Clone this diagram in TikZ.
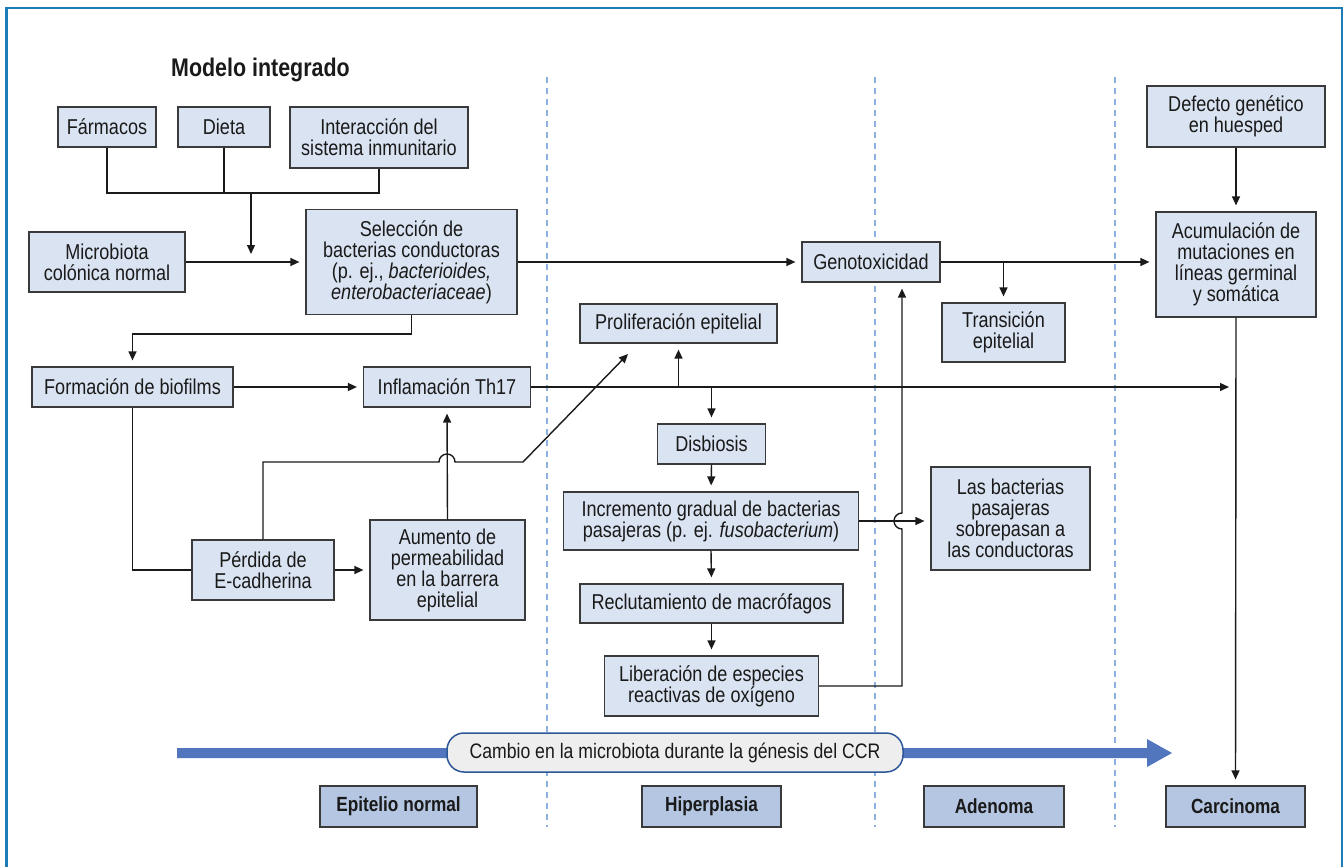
\documentclass[tikz,border=0pt]{standalone}
\usepackage{fontspec}
\setmainfont{Liberation Sans}[FakeStretch=0.84]
\usetikzlibrary{arrows.meta,calc}
\definecolor{boxfill}{HTML}{DAE3F1}
\definecolor{stagefill}{HTML}{B4C6E1}
\definecolor{edge}{HTML}{3A3A3A}
\definecolor{frameblue}{HTML}{1C7DB6}
\definecolor{dashblue}{HTML}{8EB0DE}
\definecolor{bigarrow}{HTML}{5176BE}
\definecolor{bannerline}{HTML}{2D5699}
\definecolor{bannerfill}{HTML}{EEEEEE}
\definecolor{ink}{HTML}{1A1A1A}
\begin{document}
\begin{tikzpicture}[x=1pt,y=-1pt,
  box/.style={draw=edge, line width=1.2pt, fill=boxfill, inner sep=0pt, align=center, text=ink, font=\fontsize{21.5}{21}\selectfont},
  stage/.style={draw=edge, line width=1.2pt, fill=stagefill, inner sep=0pt, align=center, text=ink, font=\fontsize{20.5}{21}\selectfont\bfseries, minimum height=41pt},
  conn/.style={draw=ink, line width=1.4pt},
  arr/.style={conn, -{Triangle[length=9pt,width=8pt]}, shorten >=6pt},
  arrfree/.style={conn, -{Triangle[length=9pt,width=8pt]}},
  sep/.style={draw=dashblue, line width=1.2pt, dash pattern=on 6pt off 5pt}
]
\useasboundingbox (0,0) rectangle (1344,867);
\fill[white] (0,0) rectangle (1344,867);
% frame
\draw[frameblue, line width=2.6pt] (6.5,900) -- (6.5,8) -- (1342,8) -- (1342,900);
% stage separators
\draw[sep] (547,77) -- (547,827);
\draw[sep] (875,77) -- (875,827);
\draw[sep] (1115,77) -- (1115,827);

% title
\node[anchor=west, font=\fontsize{25.5}{26}\selectfont\bfseries, text=ink, inner sep=0pt] (title) at (171,70) {Modelo integrado};

% boxes
\node[box, minimum width=98pt, minimum height=40pt] (farm) at (107,127) {Fármacos};
\node[box, minimum width=92pt, minimum height=40pt] (dieta) at (224,127) {Dieta};
\node[box, minimum width=178pt, minimum height=61pt] (inter) at (379,137.5) {Interacción del\\sistema inmunitario};
\node[box, minimum width=156pt, minimum height=60pt] (micro) at (107,262) {Microbiota\\colónica normal};
\node[box, minimum width=211pt, minimum height=105pt] (sel) at (411.5,262) {Selección de\\bacterias conductoras\\(p. ej., \textit{bacterioides,}\\\textit{enterobacteriaceae})};
\node[box, minimum width=138pt, minimum height=40pt] (geno) at (871,262) {Genotoxicidad};
\node[box, minimum width=178pt, minimum height=61pt] (def) at (1236,116.5) {Defecto genético\\en huesped};
\node[box, minimum width=160pt, minimum height=105pt] (acum) at (1236,264.5) {Acumulación de\\mutaciones en\\líneas germinal\\y somática};
\node[box, minimum width=123pt, minimum height=59pt] (trans) at (1003.5,332.5) {Transición\\epitelial};
\node[box, minimum width=201pt, minimum height=40pt] (form) at (132.5,387) {Formación de biofilms};
\node[box, minimum width=167pt, minimum height=40pt] (infl) at (447,387) {Inflamación Th17};
\node[box, minimum width=142pt, minimum height=60pt] (perd) at (263,570) {Pérdida de\\E-cadherina};
\node[box, minimum width=155pt, minimum height=100pt] (aum) at (447.5,570) {Aumento de\\permeabilidad\\en la barrera\\epitelial};
\node[box, minimum width=197pt, minimum height=39pt] (prol) at (678.5,323.5) {Proliferación epitelial};
\node[box, minimum width=108pt, minimum height=40pt] (disb) at (711.5,444) {Disbiosis};
\node[box, minimum width=295pt, minimum height=58pt] (incr) at (711,521) {Incremento gradual de bacterias\\pasajeras (p. ej. \textit{fusobacterium})};
\node[box, minimum width=159pt, minimum height=103pt] (bact) at (1010.5,518.5) {Las bacterias\\pasajeras\\sobrepasan a\\las conductoras};
\node[box, minimum width=263pt, minimum height=39pt] (recl) at (711.5,603.5) {Reclutamiento de macrófagos};
\node[box, minimum width=214pt, minimum height=60pt] (lib) at (711.5,686) {Liberación de especies\\reactivas de oxígeno};

% big arrow and banner
\fill[bigarrow] (177,748) -- (1147,748) -- (1147,739) -- (1172,753) -- (1147,767) -- (1147,758) -- (177,758) -- cycle;
\node[draw=bannerline, line width=1.5pt, fill=bannerfill, rounded corners=17pt, minimum width=456pt, minimum height=39pt, inner sep=0pt, text=ink, font=\fontsize{21}{21}\selectfont] (banner) at (675,752.5) {Cambio en la microbiota durante la génesis del CCR};

% stages
\node[stage, minimum width=157pt] (epi) at (398.5,806.5) {Epitelio normal};
\node[stage, minimum width=139pt] (hip) at (711.5,806.5) {Hiperplasia};
\node[stage, minimum width=140pt] (ade) at (994,806.5) {Adenoma};
\node[stage, minimum width=139pt] (car) at (1235.5,806.5) {Carcinoma};

% coordinates
\coordinate (jmid) at (251,193);
\coordinate (jend) at (251,254);
\coordinate (thend) at (1229,387);
\coordinate (prolend) at (628,354);
\coordinate (vx) at (902,686);

% connectors
\draw[conn] (farm.south) -- (farm.south |- jmid) -- (inter.south |- jmid) -- (inter.south);
\draw[conn] (dieta.south) -- (dieta.south |- jmid);
\draw[arrfree] (jmid) -- (jend);
\draw[arr] (micro.east) -- (sel.west);
\draw[arr] (sel.east) -- (geno.west);
\draw[arr] (geno.east) -- (geno.east -| acum.west);
\draw[arr] (geno.east -| trans.north) -- (trans.north);
\draw[arr] (def.south) -- (acum.north);
\draw[arr] (acum.south) -- (car.north);
\draw[arr] (sel.south) -- (sel.south |- 0,334) -| (form.north);
\draw[arr] (form.east) -- (infl.west);
\draw[conn] (form.south) |- (perd.west);
\draw[arr] (perd.east) -- (perd.east -| aum.west);
\draw[arr] (aum.north) -- (infl.south);
\draw[arrfree] (perd.north) -- (perd.north |- 0,462) -- (439,462) arc[start angle=180, end angle=0, radius=8pt] -- (523,462) -- (prolend);
\draw[arrfree] (infl.east) -- (thend);
\draw[arr] (prol.south |- infl.east) -- (prol.south);
\draw[arr] (disb.north |- infl.east) -- (disb.north);
\draw[arr] (disb.south) -- (incr.north);
\draw[arr] (incr.east) -- (incr.east -| bact.west);
\draw[arr] (incr.south) -- (recl.north);
\draw[arr] (recl.south) -- (lib.north);
\draw[arr] (lib.east) -- (vx) -- (902,529) arc[start angle=270, end angle=90, radius=8pt] -- (geno.south -| vx);
\end{tikzpicture}
\end{document}
